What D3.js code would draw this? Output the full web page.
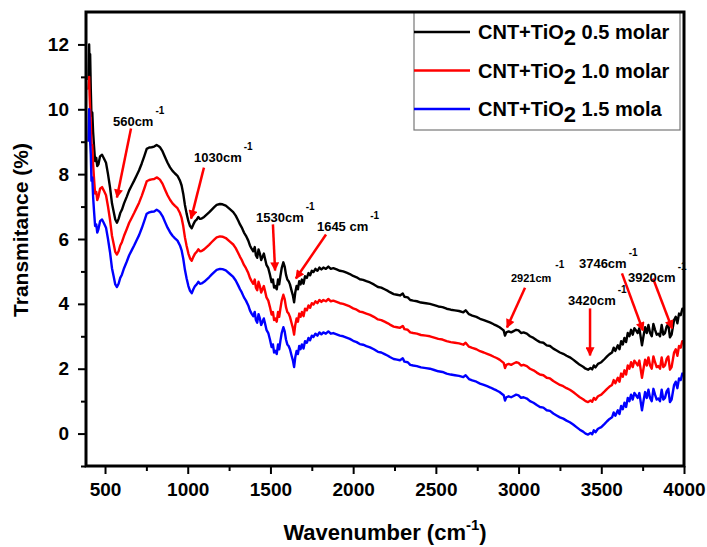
<!DOCTYPE html>
<html>
<head>
<meta charset="utf-8">
<script src="https://cdn.jsdelivr.net/npm/d3@7"></script>
<style>
  html, body { margin: 0; padding: 0; background: #fff; }
  svg { display: block; font-family: "Liberation Sans", Arial, sans-serif; font-weight: bold; }
</style>
</head>
<body>
<div id="chart"></div>
<script>
// wavenumber grid (cm-1), shared by the three spectra
const wavenumber = [
  400, 404, 407, 410, 414, 418, 423, 428, 433, 440,
  447, 453, 460, 470, 482, 492, 506, 518, 530, 542,
  552, 562, 572, 582, 592, 602, 615, 631, 646, 661,
  676, 691, 706, 722, 737, 752, 767, 782, 797, 812,
  822, 832, 848, 863, 878, 893, 908, 923, 938, 953,
  963, 973, 983, 993, 1004, 1014, 1024, 1034, 1044, 1054,
  1064, 1074, 1084, 1099, 1114, 1129, 1144, 1160, 1175, 1195,
  1210, 1230, 1255, 1275, 1290, 1305, 1316, 1326, 1340, 1352,
  1366, 1376, 1386, 1396, 1405, 1412, 1420, 1428, 1436, 1444,
  1452, 1460, 1467, 1476, 1487, 1497, 1507, 1515, 1522, 1530,
  1538, 1546, 1553, 1560, 1568, 1578, 1586, 1594, 1602, 1610,
  1618, 1628, 1636, 1643, 1650, 1658, 1666, 1674, 1682, 1690,
  1700, 1709, 1720, 1730, 1740, 1750, 1760, 1772, 1784, 1796,
  1808, 1820, 1835, 1850, 1865, 1880, 1900, 1920, 1940, 1960,
  1980, 2000, 2021, 2040, 2060, 2080, 2102, 2125, 2150, 2170,
  2190, 2210, 2222, 2245, 2265, 2283, 2300, 2310, 2330, 2345,
  2363, 2385, 2410, 2440, 2464, 2490, 2515, 2540, 2565, 2590,
  2615, 2640, 2666, 2680, 2700, 2720, 2745, 2767, 2790, 2810,
  2830, 2850, 2867, 2885, 2900, 2910, 2918, 2926, 2940, 2955,
  2970, 2985, 3000, 3015, 3030, 3050, 3069, 3090, 3110, 3129,
  3150, 3170, 3190, 3210, 3230, 3250, 3270, 3290, 3310, 3330,
  3350, 3370, 3390, 3405, 3420, 3435, 3445, 3455, 3465, 3480,
  3500, 3520, 3535, 3550, 3565, 3575, 3585, 3600, 3610, 3620,
  3630, 3640, 3650, 3660, 3670, 3680, 3690, 3700, 3710, 3720,
  3730, 3746, 3755, 3765, 3775, 3785, 3795, 3805, 3815, 3825,
  3835, 3845, 3855, 3865, 3875, 3885, 3895, 3905, 3915, 3925,
  3940, 3950, 3960, 3970, 3980, 3990, 4000
]

// transmitance (%) for CNT+TiO2 0.5 molar (black)
const molar05 = [
  10.9, 12.0, 11.2, 11.7, 10.6, 9.8, 9.9, 9.3, 8.9, 8.4,
  8.5, 8.25, 8.3, 8.55, 8.6, 8.5, 8.35, 8.0, 7.6, 7.1,
  6.85, 6.6, 6.5, 6.62, 6.8, 6.9, 7.1, 7.3, 7.5, 7.65,
  7.8, 7.96, 8.12, 8.33, 8.55, 8.78, 8.82, 8.83, 8.85, 8.9,
  8.87, 8.83, 8.7, 8.52, 8.35, 8.21, 8.1, 8.02, 7.95, 7.8,
  7.65, 7.39, 7.05, 6.79, 6.55, 6.4, 6.33, 6.45, 6.55, 6.6,
  6.68, 6.62, 6.63, 6.68, 6.75, 6.82, 6.9, 6.98, 7.05, 7.08,
  7.07, 7.03, 6.92, 6.83, 6.72, 6.57, 6.45, 6.36, 6.2, 6.1,
  5.95, 5.8, 5.7, 5.62, 5.75, 5.5, 5.42, 5.68, 5.55, 5.35,
  5.45, 5.55, 5.4, 5.2, 5.1, 4.9, 4.67, 4.75, 4.5, 4.55,
  4.45, 4.75, 4.6, 4.85, 5.1, 5.28, 5.15, 4.9, 4.75, 4.7,
  4.6, 4.4, 4.25, 4.05, 4.35, 4.55, 4.45, 4.7, 4.6, 4.75,
  4.62, 4.85, 4.8, 4.95, 4.88, 5.02, 4.98, 5.08, 5.02, 5.12,
  5.06, 5.12, 5.08, 5.15, 5.08, 5.1, 5.06, 5.02, 5.0, 4.96,
  4.92, 4.86, 4.82, 4.76, 4.74, 4.7, 4.66, 4.6, 4.52, 4.5,
  4.45, 4.4, 4.36, 4.3, 4.28, 4.26, 4.32, 4.22, 4.2, 4.12,
  4.1, 4.08, 4.04, 4.02, 4.0, 3.96, 3.92, 3.9, 3.85, 3.82,
  3.8, 3.78, 3.74, 3.8, 3.68, 3.64, 3.6, 3.54, 3.5, 3.46,
  3.42, 3.37, 3.33, 3.28, 3.22, 3.18, 3.02, 3.12, 3.15, 3.12,
  3.16, 3.2, 3.18, 3.1, 3.12, 3.08, 3.0, 2.95, 2.88, 2.82,
  2.8, 2.72, 2.7, 2.62, 2.56, 2.5, 2.46, 2.4, 2.35, 2.28,
  2.2, 2.12, 2.06, 2.0, 1.97, 2.02, 1.98, 2.1, 2.04, 2.15,
  2.2, 2.3, 2.38, 2.45, 2.5, 2.65, 2.55, 2.72, 2.6, 2.85,
  2.75, 2.95, 2.82, 3.1, 3.0, 3.2, 3.05, 3.25, 3.18, 3.1,
  3.25, 2.72, 3.0, 3.28, 3.1, 3.35, 3.1, 3.0, 3.38, 3.2,
  3.05, 3.08, 3.0, 3.35, 3.05, 3.1, 3.3, 3.38, 2.97, 3.05,
  3.5, 3.6, 3.4, 3.7, 3.65, 3.85, 3.8
]

// CNT+TiO2 1.0 molar (red)
const molar10 = [
  10.6, 11.0, 10.4, 10.0, 9.6, 8.9, 8.9, 8.3, 7.9, 7.4,
  7.45, 7.2, 7.3, 7.55, 7.6, 7.5, 7.35, 7.0, 6.6, 6.1,
  5.85, 5.6, 5.52, 5.62, 5.8, 5.9, 6.1, 6.3, 6.5, 6.65,
  6.8, 6.96, 7.12, 7.33, 7.55, 7.78, 7.82, 7.84, 7.85, 7.9,
  7.87, 7.83, 7.7, 7.52, 7.35, 7.21, 7.1, 7.02, 6.95, 6.8,
  6.65, 6.39, 6.05, 5.79, 5.55, 5.4, 5.33, 5.45, 5.55, 5.6,
  5.68, 5.62, 5.63, 5.68, 5.75, 5.82, 5.9, 5.98, 6.05, 6.08,
  6.07, 6.03, 5.92, 5.83, 5.72, 5.57, 5.45, 5.36, 5.2, 5.1,
  4.95, 4.8, 4.7, 4.62, 4.75, 4.5, 4.42, 4.68, 4.55, 4.35,
  4.45, 4.55, 4.4, 4.2, 4.1, 3.9, 3.67, 3.75, 3.5, 3.55,
  3.45, 3.75, 3.6, 3.85, 4.1, 4.28, 4.15, 3.9, 3.75, 3.7,
  3.6, 3.4, 3.25, 3.05, 3.35, 3.55, 3.45, 3.7, 3.6, 3.75,
  3.62, 3.85, 3.8, 3.95, 3.88, 4.02, 3.98, 4.08, 4.02, 4.12,
  4.06, 4.12, 4.08, 4.15, 4.08, 4.1, 4.06, 4.02, 4.0, 3.96,
  3.92, 3.86, 3.82, 3.76, 3.74, 3.7, 3.66, 3.6, 3.52, 3.5,
  3.45, 3.4, 3.36, 3.3, 3.28, 3.26, 3.32, 3.22, 3.2, 3.12,
  3.1, 3.08, 3.04, 3.02, 3.0, 2.96, 2.92, 2.9, 2.85, 2.82,
  2.8, 2.78, 2.74, 2.8, 2.68, 2.64, 2.6, 2.54, 2.5, 2.46,
  2.42, 2.37, 2.33, 2.28, 2.22, 2.18, 2.02, 2.12, 2.15, 2.12,
  2.16, 2.2, 2.18, 2.1, 2.12, 2.08, 2.0, 1.95, 1.88, 1.82,
  1.8, 1.72, 1.7, 1.62, 1.56, 1.5, 1.46, 1.4, 1.35, 1.28,
  1.2, 1.12, 1.06, 1.0, 0.97, 1.02, 0.98, 1.1, 1.04, 1.15,
  1.2, 1.3, 1.38, 1.45, 1.5, 1.65, 1.55, 1.72, 1.6, 1.85,
  1.75, 1.95, 1.82, 2.1, 2.0, 2.2, 2.05, 2.25, 2.18, 2.1,
  2.25, 1.72, 2.0, 2.28, 2.1, 2.35, 2.1, 2.0, 2.38, 2.2,
  2.05, 2.08, 2.0, 2.35, 2.05, 2.1, 2.3, 2.38, 1.97, 2.05,
  2.5, 2.6, 2.4, 2.7, 2.65, 2.85, 2.8
]

// CNT+TiO2 1.5 molar (blue)
const molar15 = [
  9.0, 10.0, 9.6, 9.0, 8.6, 7.8, 7.9, 7.3, 6.9, 6.4,
  6.45, 6.2, 6.3, 6.55, 6.6, 6.5, 6.35, 6.0, 5.6, 5.1,
  4.85, 4.6, 4.52, 4.62, 4.8, 4.9, 5.1, 5.3, 5.5, 5.65,
  5.8, 5.96, 6.12, 6.33, 6.55, 6.78, 6.82, 6.84, 6.85, 6.9,
  6.87, 6.83, 6.7, 6.52, 6.35, 6.21, 6.1, 6.02, 5.95, 5.8,
  5.65, 5.39, 5.05, 4.79, 4.55, 4.4, 4.33, 4.45, 4.55, 4.6,
  4.68, 4.62, 4.63, 4.68, 4.75, 4.82, 4.9, 4.98, 5.05, 5.08,
  5.07, 5.03, 4.92, 4.83, 4.72, 4.57, 4.45, 4.36, 4.2, 4.1,
  3.95, 3.8, 3.7, 3.62, 3.75, 3.5, 3.42, 3.68, 3.55, 3.35,
  3.45, 3.55, 3.4, 3.2, 3.1, 2.9, 2.67, 2.75, 2.5, 2.55,
  2.45, 2.75, 2.6, 2.85, 3.1, 3.28, 3.15, 2.9, 2.75, 2.7,
  2.6, 2.4, 2.25, 2.05, 2.35, 2.55, 2.45, 2.7, 2.6, 2.75,
  2.62, 2.85, 2.8, 2.95, 2.88, 3.02, 2.98, 3.08, 3.02, 3.12,
  3.06, 3.12, 3.08, 3.15, 3.08, 3.1, 3.06, 3.02, 3.0, 2.96,
  2.92, 2.86, 2.82, 2.76, 2.74, 2.7, 2.66, 2.6, 2.52, 2.5,
  2.45, 2.4, 2.36, 2.3, 2.28, 2.26, 2.32, 2.22, 2.2, 2.12,
  2.1, 2.08, 2.04, 2.02, 2.0, 1.96, 1.92, 1.9, 1.85, 1.82,
  1.8, 1.78, 1.74, 1.8, 1.68, 1.64, 1.6, 1.54, 1.5, 1.46,
  1.42, 1.37, 1.33, 1.28, 1.22, 1.18, 1.02, 1.12, 1.15, 1.12,
  1.16, 1.2, 1.18, 1.1, 1.12, 1.08, 1.0, 0.95, 0.88, 0.82,
  0.8, 0.72, 0.7, 0.62, 0.56, 0.5, 0.46, 0.4, 0.35, 0.28,
  0.2, 0.12, 0.06, 0.0, -0.03, 0.02, -0.02, 0.1, 0.04, 0.15,
  0.2, 0.3, 0.38, 0.45, 0.5, 0.65, 0.55, 0.72, 0.6, 0.85,
  0.75, 0.95, 0.82, 1.1, 1.0, 1.2, 1.05, 1.25, 1.18, 1.1,
  1.25, 0.72, 1.0, 1.28, 1.1, 1.35, 1.1, 1.0, 1.38, 1.2,
  1.05, 1.08, 1.0, 1.35, 1.05, 1.1, 1.3, 1.38, 0.97, 1.05,
  1.5, 1.6, 1.4, 1.7, 1.65, 1.85, 1.8
]

const seriesLabels = ['0.5 molar', '1.0 molar', '1.5 mola']
const seriesColors = ['#000000', '#ff0000', '#0000ff']

const xTicks = [500, 1000, 1500, 2000, 2500, 3000, 3500, 4000]
const yTicks = [0, 2, 4, 6, 8, 10, 12]

// peak annotations: label, text anchor (wn, T), arrow tail and head (wn, T)
const peakLabels = ['560cm', '1030cm', '1530cm', '1645 cm', '2921cm', '3420cm', '3746cm', '3920cm']
const labelPos = [[548, 9.5], [1038, 8.36], [1413, 6.51], [1781, 6.26], [2954, 4.66], [3299, 3.95], [3365, 5.12], [3661, 4.66]]
const arrowFrom = [[657, 9.41], [1098, 8.2], [1515, 6.45], [1836, 6.14], [3039, 4.5], [3432, 3.86], [3625, 4.94], [3813, 4.78]]
const arrowTo = [[572, 7.28], [1020, 6.63], [1528, 5.03], [1654, 4.78], [2930, 3.27], [3432, 2.41], [3752, 3.18], [3928, 3.24]]

const W = 707, H = 547
const margin = { top: 12, right: 23, bottom: 81, left: 86 }
const iw = W - margin.left - margin.right
const ih = H - margin.top - margin.bottom

const x = d3.scaleLinear().domain([385, 4000]).range([0, iw])
const y = d3.scaleLinear().domain([-1, 13]).range([ih, 0])

const svg = d3.select('#chart').append('svg')
  .attr('width', W)
  .attr('height', H)

svg.append('defs').append('marker')
  .attr('id', 'head')
  .attr('viewBox', '0 0 10 10')
  .attr('refX', 9).attr('refY', 5)
  .attr('markerWidth', 4.2).attr('markerHeight', 3.6)
  .attr('markerUnits', 'strokeWidth')
  .attr('orient', 'auto')
  .append('path')
  .attr('d', 'M0,0 L10,5 L0,10 Z')
  .attr('fill', '#ff0000')

const g = svg.append('g').attr('transform', `translate(${margin.left},${margin.top})`)

// axes
const xAxis = g.append('g')
  .attr('transform', `translate(0,${ih})`)
  .call(d3.axisBottom(x).tickValues(xTicks).tickSize(8).tickPadding(9).tickFormat(d3.format('d')))
const xMinor = g.append('g')
  .attr('transform', `translate(0,${ih})`)
  .call(d3.axisBottom(x).tickValues(d3.range(750, 4000, 500)).tickSize(5).tickFormat(''))
const yAxis = g.append('g')
  .call(d3.axisLeft(y).tickValues(yTicks).tickSize(8).tickPadding(9))
const yMinor = g.append('g')
  .call(d3.axisLeft(y).tickValues(d3.range(-1, 13, 2)).tickSize(5).tickFormat(''))

for (const ax of [xAxis, xMinor, yAxis, yMinor]) {
  ax.select('.domain').remove()
  ax.selectAll('line').attr('stroke', '#000').attr('stroke-width', 2)
  ax.selectAll('text')
    .attr('fill', '#000')
    .style('font-size', '19px')
    .style('font-weight', 'bold')
    .style('font-family', '"Liberation Sans", Arial, sans-serif')
}

// spectra
const line = d3.line()
  .x((d, i) => x(wavenumber[i]))
  .y(d => y(d))

const series = [molar05, molar10, molar15]
g.append('g').selectAll('path')
  .data(series)
  .join('path')
  .attr('fill', 'none')
  .attr('stroke', (d, i) => seriesColors[i])
  .attr('stroke-width', 2.4)
  .attr('stroke-linejoin', 'round')
  .attr('d', line)

// arrows
g.append('g').selectAll('line')
  .data(arrowFrom)
  .join('line')
  .attr('x1', d => x(d[0])).attr('y1', d => y(d[1]))
  .attr('x2', (d, i) => x(arrowTo[i][0])).attr('y2', (d, i) => y(arrowTo[i][1]))
  .attr('stroke', '#ff0000')
  .attr('stroke-width', 2.5)
  .attr('marker-end', 'url(#head)')

// peak labels
const lab = g.append('g').selectAll('text')
  .data(peakLabels)
  .join('text')
  .attr('x', (d, i) => x(labelPos[i][0]))
  .attr('y', (d, i) => y(labelPos[i][1]))
  .style('font-size', (d, i) => i === 4 ? '11px' : '13px')
  .attr('fill', '#000')
lab.append('tspan').text(d => d)
lab.append('tspan')
  .attr('dx', (d, i) => i === 4 ? 4 : 2)
  .attr('dy', (d, i) => i === 4 ? -14 : -12)
  .style('font-size', '10px')
  .text('-1')

// legend
const lg = g.append('g').attr('transform', `translate(${414 - margin.left},0)`)
lg.append('rect')
  .attr('width', 266).attr('height', 118)
  .attr('fill', '#fff')
  .attr('stroke', '#777')
  .attr('stroke-width', 1.2)
seriesLabels.forEach((s, i) => {
  const yy = 20 + i * 38.5
  lg.append('line')
    .attr('x1', 0).attr('x2', 56)
    .attr('y1', yy).attr('y2', yy)
    .attr('stroke', seriesColors[i])
    .attr('stroke-width', 2.4)
  const t = lg.append('text')
    .attr('x', 64).attr('y', yy + 7)
    .style('font-size', '20px')
    .attr('fill', '#000')
  t.append('tspan').text('CNT+TiO')
  t.append('tspan').attr('dy', 6).style('font-size', '22px').text('2')
  t.append('tspan').attr('dy', -6).text(' ' + s)
})

// frame
g.append('rect')
  .attr('width', iw)
  .attr('height', ih)
  .attr('fill', 'none')
  .attr('stroke', '#000')
  .attr('stroke-width', 3)

// axis titles
const xt = svg.append('text')
  .attr('x', margin.left + iw / 2)
  .attr('y', 540)
  .attr('text-anchor', 'middle')
  .style('font-size', '22px')
xt.append('tspan').text('Wavenumber (cm')
xt.append('tspan').attr('dy', -10).style('font-size', '15px').text('-1')
xt.append('tspan').attr('dy', 10).text(')')

svg.append('text')
  .attr('transform', `translate(28,${margin.top + 218}) rotate(-90)`)
  .attr('text-anchor', 'middle')
  .style('font-size', '21px')
  .text('Transmitance (%)')
</script>
</body>
</html>
